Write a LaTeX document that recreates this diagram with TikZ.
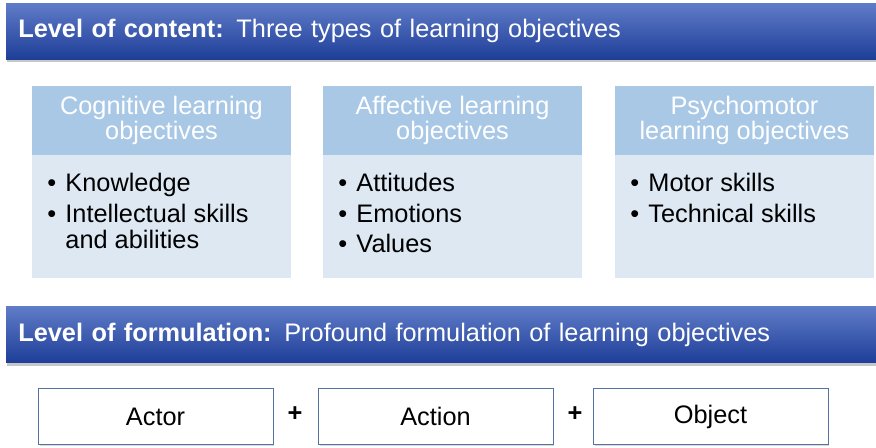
\documentclass[tikz,border=0pt]{standalone}
\usepackage{fontspec}
\setmainfont{Liberation Sans}
\usetikzlibrary{positioning,shadows}
\definecolor{barTop}{RGB}{96,124,200}
\definecolor{barBot}{RGB}{30,62,152}
\definecolor{capBlue}{RGB}{168,200,230}
\definecolor{paleBlue}{RGB}{221,232,243}
\definecolor{frameBlue}{RGB}{84,114,164}
\newcommand{\bul}[1]{\textbullet & #1\\[3.2pt]}

\begin{document}
\begin{tikzpicture}[x=0.75pt, y=-0.75pt,
  font=\fontsize{19}{22}\selectfont,
  bar/.style={rectangle, top color=barTop, bottom color=barBot, draw=none,
              minimum width=652.5pt, minimum height=42pt, text width=634pt,
              align=left, inner xsep=9pt, text=white,
              drop shadow={shadow xshift=0.8pt, shadow yshift=-2.5pt, opacity=0.45}},
  capbox/.style={rectangle, fill=capBlue, minimum width=194.25pt, minimum height=51.75pt,
              align=center, text=white, inner sep=0pt, text depth=4pt,
              font=\fontsize{19}{19}\selectfont},
  body/.style={rectangle, fill=paleBlue, minimum width=194.25pt, minimum height=92.25pt},
  pts/.style={anchor=north west, inner sep=0pt, align=left,
              font=\fontsize{19}{19.5}\selectfont},
  part/.style={rectangle, draw=frameBlue, fill=white, minimum width=176pt,
               minimum height=42pt,
               drop shadow={shadow xshift=1pt, shadow yshift=-1pt, opacity=0.3}},
  plus/.style={font=\fontsize{19}{22}\selectfont\bfseries}]
  \useasboundingbox (0,0) rectangle (876,447);

  % level of content
  \node[bar] (content) at (441,31)
    {\textbf{Level of content:} Three types of learning objectives};

  % cognitive
  \node[body] (cogB) at (161.5,216.5) {};
  \node[capbox] (cogH) at (161.5,120.5) {Cognitive learning\\objectives};
  \node[pts] (cogL) at (47,173)
    {\begin{tabular}{@{}c@{\hspace{7pt}}l@{}}
       \bul{Knowledge}
       \textbullet & Intellectual skills\\ & and abilities
     \end{tabular}};

  % affective
  \node[body] (affB) at (452.5,216.5) {};
  \node[capbox] (affH) at (452.5,120.5) {Affective learning\\objectives};
  \node[pts] (affL) at (338,173)
    {\begin{tabular}{@{}c@{\hspace{7pt}}l@{}}
       \bul{Attitudes}
       \bul{Emotions}
       \textbullet & Values
     \end{tabular}};

  % psychomotor
  \node[body] (psyB) at (744.5,216.5) {};
  \node[capbox] (psyH) at (744.5,120.5) {Psychomotor\\learning objectives};
  \node[pts] (psyL) at (630,173)
    {\begin{tabular}{@{}c@{\hspace{7pt}}l@{}}
       \bul{Motor skills}
       \textbullet & Technical skills
     \end{tabular}};

  % level of formulation
  \node[bar] (form) at (441,334.5)
    {\textbf{Level of formulation:} Profound formulation of learning objectives};

  \node[part] (actor) at (155.5,416.5) {Actor};
  \node[part] (action) at (435.5,416.5) {Action};
  \node[part] (object) at (710.5,416.5) {Object};
  \node[plus] (p1) at (295,414) {+};
  \node[plus] (p2) at (575,414) {+};
\end{tikzpicture}
\end{document}
